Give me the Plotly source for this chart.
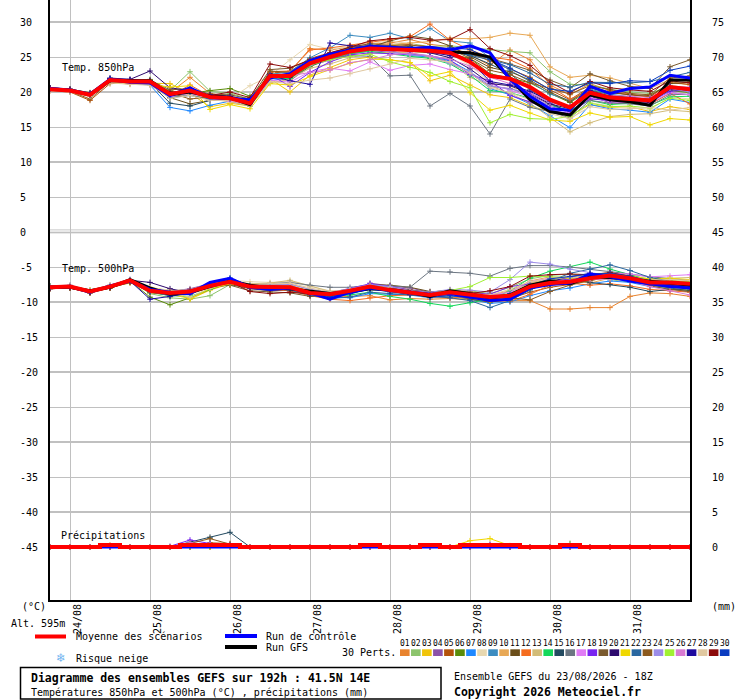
import plotly.graph_objects as go

#----------Zeitachse: Stunden ab dem Lauf 23/08 18Z (Schritt 6h, 192h)
stunden = [0, 6, 12, 18, 24, 30, 36, 42, 48, 54, 60, 66, 72, 78, 84, 90, 96,
           102, 108, 114, 120, 126, 132, 138, 144, 150, 156, 162, 168, 174, 180, 186, 192]

tage_stunden = [6, 30, 54, 78, 102, 126, 150, 174]
tage_text = ["24/08", "25/08", "26/08", "27/08", "28/08", "29/08", "30/08", "31/08"]

y_ticks_links = [30, 25, 20, 15, 10, 5, 0, -5, -10, -15, -20, -25, -30, -35, -40, -45]
y_ticks_rechts = [75, 70, 65, 60, 55, 50, 45, 40, 35, 30, 25, 20, 15, 10, 5, 0]

farben = ["#e8832e", "#8cc46c", "#f0c40a", "#8c52a8", "#b4520a", "#5a8c0a", "#1e88ff", "#e8d8b0",
          "#3c8cc0", "#e8a855", "#6b4e1a", "#f56c1e", "#d2bc78", "#14d85a", "#234a60", "#6c7682",
          "#e07cf5", "#7824f0", "#7a5a2e", "#2d0a6e", "#f0d800", "#2a68a0", "#8c5a1e", "#9c8ce8",
          "#a0f032", "#d87ad2", "#1e0a9e", "#e0c8a0", "#8c0a0a", "#0a3cc0"]

#----------Temp. 850hPa
t850_moyenne = [20.4, 20.2, 19.6, 21.7, 21.5, 21.5, 19.7, 20.2, 19.3, 19.1, 18.4,
                22.3, 22.3, 24.1, 25.0, 25.8, 26.2, 26.1, 26.0, 25.9, 25.6, 24.3,
                22.3, 21.9, 20.7, 18.9, 17.8, 19.9, 19.2, 19.0, 18.8, 20.7, 20.4]
t850_controle = [20.5, 20.3, 19.7, 21.8, 21.4, 21.3, 19.5, 20.6, 19.2, 19.0, 18.9,
                 22.0, 22.6, 24.5, 25.4, 26.0, 26.5, 26.4, 26.2, 26.4, 26.0, 26.6,
                 25.6, 21.8, 19.4, 17.6, 17.4, 20.8, 19.8, 20.5, 20.7, 22.4, 22.0]
t850_gfs = [20.4, 20.2, 19.6, 21.6, 21.6, 21.6, 19.6, 20.0, 19.4, 19.2, 18.2,
            22.4, 22.2, 24.2, 25.2, 26.0, 26.3, 26.2, 26.2, 26.0, 25.7, 25.6,
            25.0, 22.0, 18.9, 17.2, 16.7, 19.6, 18.9, 18.6, 18.1, 21.7, 21.7]

t850_p01 = [20.5, 20.3, 19.8, 21.6, 21.4, 21.3, 19.9, 22.1, 19.8, 19.3, 18.6, 22.8, 22.9, 26.2, 26.0, 26.4, 26.9, 27.0, 27.5, 26.8, 26.5, 25.3, 23.8, 26.0, 24.6, 21.0, 19.6, 21.2, 20.2, 19.7, 19.2, 21.5, 21.0]
t850_p02 = [20.6, 20.4, 19.9, 21.9, 21.6, 21.4, 20.2, 22.9, 20.1, 19.8, 19.0, 22.6, 22.5, 24.4, 25.3, 26.0, 26.3, 26.7, 26.9, 26.5, 26.6, 26.3, 26.0, 25.8, 25.6, 22.9, 21.1, 21.0, 20.4, 20.0, 19.8, 20.9, 20.6]
t850_p03 = [20.3, 20.1, 19.5, 21.5, 21.3, 21.2, 21.2, 19.8, 17.9, 18.4, 18.0, 21.9, 20.0, 22.4, 23.5, 24.6, 25.0, 24.6, 24.2, 21.6, 22.4, 21.0, 19.6, 19.2, 18.0, 17.2, 16.6, 18.2, 17.8, 17.9, 17.2, 17.9, 17.5]
t850_p04 = [20.4, 20.2, 19.6, 21.8, 21.6, 21.7, 19.4, 19.9, 19.1, 18.9, 18.3, 22.1, 21.6, 23.7, 24.6, 25.4, 25.9, 25.7, 25.5, 25.0, 24.3, 22.6, 20.8, 20.5, 19.6, 18.2, 17.2, 19.4, 18.6, 18.4, 18.2, 19.9, 19.6]
t850_p05 = [20.2, 20.0, 18.8, 21.2, 21.3, 21.6, 19.9, 20.4, 19.5, 19.4, 18.6, 22.7, 22.9, 24.8, 25.6, 26.3, 26.7, 26.6, 26.8, 26.4, 26.1, 25.6, 24.4, 23.3, 22.1, 20.3, 18.9, 20.7, 20.0, 19.6, 19.3, 21.3, 21.1]
t850_p06 = [20.5, 20.3, 19.7, 21.6, 21.5, 21.8, 20.0, 19.8, 20.2, 20.5, 19.4, 22.2, 22.0, 23.6, 24.9, 25.6, 26.0, 26.2, 25.8, 25.6, 25.4, 24.8, 22.6, 22.0, 21.3, 19.8, 18.5, 20.3, 19.6, 19.2, 19.0, 20.2, 19.9]
t850_p07 = [20.4, 20.2, 19.5, 21.4, 21.2, 21.0, 17.8, 17.3, 18.1, 18.7, 18.0, 21.6, 22.1, 24.3, 25.2, 25.7, 26.1, 25.9, 25.2, 25.0, 24.5, 22.9, 20.5, 19.6, 18.3, 16.6, 14.9, 18.2, 17.6, 17.4, 17.1, 19.0, 18.5]
t850_p08 = [20.3, 20.1, 19.6, 21.3, 21.1, 21.0, 19.3, 19.6, 18.9, 19.0, 20.9, 22.3, 24.6, 26.8, 26.1, 26.5, 27.0, 27.3, 26.9, 26.2, 25.4, 23.8, 21.4, 20.8, 19.4, 17.5, 16.0, 18.5, 18.0, 17.8, 17.5, 19.3, 19.0]
t850_p09 = [20.5, 20.3, 19.8, 21.9, 21.7, 21.6, 19.5, 20.0, 19.6, 19.2, 18.5, 22.5, 22.9, 24.9, 26.3, 28.1, 27.8, 28.4, 27.6, 29.1, 27.3, 27.0, 24.9, 23.1, 21.5, 19.7, 18.8, 20.4, 19.7, 19.3, 18.9, 20.5, 20.2]
t850_p10 = [20.4, 20.2, 19.7, 21.7, 21.4, 21.4, 19.6, 20.5, 19.1, 18.8, 18.2, 22.0, 22.4, 24.5, 25.4, 26.2, 26.6, 26.8, 27.0, 27.2, 27.7, 27.6, 27.8, 28.4, 28.1, 23.6, 22.1, 22.4, 22.0, 21.2, 20.5, 21.8, 21.5]
t850_p11 = [20.6, 20.4, 19.8, 21.4, 21.5, 21.4, 19.2, 18.3, 18.8, 18.9, 18.1, 22.4, 22.6, 23.9, 24.8, 25.8, 26.4, 27.3, 28.0, 27.6, 26.6, 25.0, 23.5, 22.9, 21.7, 20.0, 18.6, 20.6, 19.9, 19.6, 19.5, 21.2, 21.4]
t850_p12 = [20.3, 20.1, 19.6, 21.7, 21.3, 21.2, 19.4, 21.0, 19.4, 19.0, 18.3, 22.9, 23.0, 26.0, 26.3, 26.7, 27.1, 27.6, 27.9, 29.7, 27.4, 26.0, 25.0, 24.6, 23.3, 20.8, 19.0, 20.1, 18.9, 18.5, 18.3, 19.8, 18.3]
t850_p13 = [20.2, 20.0, 19.4, 21.5, 21.1, 21.2, 19.1, 19.7, 19.0, 18.6, 18.0, 21.3, 21.8, 23.4, 24.0, 24.9, 25.5, 25.7, 25.6, 25.0, 24.2, 22.1, 20.9, 19.8, 18.4, 16.4, 14.3, 15.6, 16.5, 16.8, 16.9, 17.4, 17.2]
t850_p14 = [20.5, 20.3, 19.7, 21.6, 21.6, 21.4, 19.8, 20.3, 19.2, 19.3, 18.7, 22.0, 21.9, 23.8, 24.7, 25.5, 25.8, 25.4, 25.1, 24.8, 24.0, 22.4, 20.2, 19.9, 19.1, 18.1, 17.4, 18.8, 18.2, 18.4, 18.1, 19.3, 19.4]
t850_p15 = [20.4, 20.2, 19.6, 21.5, 21.3, 21.3, 18.4, 18.0, 18.8, 19.1, 18.6, 22.3, 22.4, 24.2, 25.1, 25.9, 26.2, 26.3, 26.5, 26.0, 25.8, 25.2, 24.0, 22.6, 20.4, 18.4, 17.1, 19.4, 18.5, 18.9, 18.7, 20.3, 20.1]
t850_p16 = [20.5, 20.3, 19.7, 21.6, 21.4, 21.5, 19.6, 20.1, 19.4, 19.2, 18.5, 22.2, 22.2, 24.0, 24.8, 25.2, 25.1, 22.3, 22.4, 18.0, 19.8, 18.0, 14.0, 19.0, 17.8, 17.2, 16.3, 18.8, 18.4, 18.3, 18.0, 19.6, 19.7]
t850_p17 = [20.3, 20.1, 19.5, 21.6, 21.2, 21.1, 19.3, 19.8, 19.0, 18.7, 18.2, 21.7, 21.4, 22.9, 23.4, 23.0, 24.3, 23.1, 23.8, 24.0, 23.2, 22.6, 21.2, 20.2, 19.3, 18.0, 17.0, 19.2, 18.6, 18.5, 18.4, 19.9, 19.6]
t850_p18 = [20.4, 20.2, 19.6, 21.9, 21.7, 21.6, 19.6, 20.0, 19.3, 19.0, 18.4, 22.5, 20.8, 22.8, 24.3, 25.3, 25.6, 25.5, 25.4, 25.2, 24.6, 22.5, 21.6, 19.5, 18.6, 17.4, 16.9, 19.0, 18.8, 18.8, 18.6, 20.1, 20.3]
t850_p19 = [20.6, 20.4, 19.9, 21.8, 21.7, 21.7, 20.3, 20.5, 19.7, 19.6, 19.0, 23.2, 23.4, 24.6, 25.5, 26.4, 26.9, 26.6, 26.3, 26.1, 25.9, 25.4, 24.8, 24.0, 23.1, 21.7, 20.6, 22.6, 21.6, 20.8, 20.5, 23.6, 24.6]
t850_p20 = [20.5, 20.3, 19.7, 22.0, 21.8, 23.0, 20.6, 20.2, 19.5, 19.3, 18.7, 22.6, 22.1, 24.0, 25.1, 25.9, 26.5, 26.3, 26.1, 25.6, 24.9, 23.3, 21.2, 20.9, 19.8, 18.3, 17.6, 19.7, 19.0, 18.7, 18.5, 20.4, 20.2]
t850_p21 = [20.3, 20.1, 19.5, 21.4, 21.2, 21.1, 20.7, 20.9, 17.5, 18.2, 17.6, 21.2, 21.0, 22.2, 23.2, 24.1, 24.7, 24.6, 24.2, 22.3, 22.9, 19.9, 17.4, 18.1, 17.0, 16.0, 15.8, 17.0, 16.4, 16.5, 15.3, 16.2, 16.0]
t850_p22 = [20.4, 20.2, 19.6, 21.7, 21.5, 21.4, 19.2, 19.5, 19.0, 19.1, 18.5, 22.1, 22.4, 24.4, 25.3, 25.8, 26.0, 26.1, 25.9, 26.1, 25.9, 25.3, 24.6, 23.9, 22.7, 21.1, 20.7, 21.4, 21.4, 21.3, 21.5, 22.2, 22.8]
t850_p23 = [20.3, 20.1, 19.0, 21.5, 21.6, 21.6, 19.9, 19.0, 19.3, 19.0, 18.4, 23.0, 22.8, 24.3, 25.2, 26.2, 26.6, 26.4, 26.7, 26.5, 26.2, 24.8, 23.1, 22.5, 21.3, 20.5, 19.7, 20.9, 20.3, 19.8, 19.6, 22.0, 22.3]
t850_p24 = [20.5, 20.3, 19.7, 21.8, 21.5, 21.3, 19.9, 20.4, 19.2, 19.2, 18.6, 22.4, 22.7, 23.8, 24.9, 25.7, 26.1, 25.8, 25.3, 25.2, 24.1, 22.9, 20.9, 20.4, 19.9, 18.5, 17.9, 19.8, 19.1, 18.9, 18.7, 20.5, 20.0]
t850_p25 = [20.4, 20.2, 19.6, 21.6, 21.4, 21.4, 19.7, 20.0, 19.5, 19.1, 18.6, 22.0, 22.2, 23.9, 24.6, 25.1, 25.4, 24.3, 23.5, 22.8, 21.5, 20.6, 15.6, 16.8, 16.2, 16.1, 16.5, 18.4, 17.9, 18.0, 17.7, 19.1, 18.8]
t850_p26 = [20.3, 20.1, 19.6, 21.6, 21.3, 21.3, 19.5, 20.2, 19.3, 18.9, 18.3, 22.3, 22.3, 22.8, 23.1, 24.2, 24.6, 25.3, 25.6, 25.1, 24.7, 23.7, 22.1, 21.2, 19.8, 18.6, 18.0, 20.0, 19.5, 19.4, 19.2, 20.8, 20.7]
t850_p27 = [20.6, 20.4, 19.8, 21.9, 21.8, 21.6, 19.8, 20.1, 19.6, 19.4, 18.8, 22.4, 21.6, 21.1, 27.0, 26.6, 26.5, 26.4, 26.0, 25.7, 25.2, 24.5, 21.5, 21.0, 20.1, 18.7, 17.8, 20.2, 19.4, 19.1, 18.9, 20.8, 20.5]
t850_p28 = [20.2, 20.0, 19.4, 21.4, 21.1, 21.0, 19.1, 19.5, 18.8, 18.8, 18.1, 21.5, 21.2, 21.7, 22.0, 22.6, 23.3, 24.0, 24.8, 24.6, 24.3, 22.7, 20.6, 19.9, 18.9, 16.9, 16.2, 17.9, 17.5, 17.6, 17.8, 17.4, 17.8]
t850_p29 = [20.5, 20.3, 19.6, 21.7, 21.6, 21.5, 20.0, 20.1, 19.5, 20.0, 19.2, 24.0, 23.5, 24.6, 25.6, 26.4, 27.3, 27.6, 27.8, 27.4, 27.5, 28.9, 26.2, 25.2, 23.8, 21.4, 19.9, 21.5, 20.6, 20.3, 20.1, 21.6, 21.3]
t850_p30 = [20.4, 20.2, 19.6, 21.8, 21.6, 21.5, 19.5, 20.0, 19.2, 19.0, 18.6, 22.2, 22.3, 24.2, 25.3, 26.1, 26.7, 26.5, 26.3, 26.0, 26.3, 26.1, 24.7, 23.4, 21.9, 20.4, 20.1, 21.3, 21.2, 21.6, 21.5, 23.1, 23.7]

#----------Temp. 500hPa
t500_moyenne = [-7.9, -7.8, -8.5, -7.8, -6.9, -8.4, -8.7, -8.5, -7.7, -7.1, -7.8,
                -7.9, -7.9, -8.7, -8.9, -8.4, -7.8, -8.3, -8.7, -9.0, -8.6, -8.9,
                -9.3, -9.1, -7.8, -7.3, -7.1, -6.6, -6.2, -6.6, -7.2, -7.2, -7.4]
t500_controle = [-7.9, -7.8, -8.6, -7.7, -7.0, -8.2, -8.6, -8.8, -7.2, -6.6, -7.9,
                 -8.2, -8.0, -8.7, -9.6, -8.6, -8.0, -8.3, -8.5, -8.9, -8.8, -9.3,
                 -9.8, -9.6, -8.0, -7.5, -7.3, -6.0, -6.4, -7.0, -7.4, -7.8, -8.0]
t500_gfs = [-7.9, -7.9, -8.4, -7.9, -6.8, -8.0, -8.9, -8.6, -7.8, -7.0, -7.6,
            -8.0, -8.1, -8.5, -8.8, -8.5, -8.1, -8.2, -8.6, -9.2, -8.4, -8.8,
            -9.5, -9.0, -7.6, -7.0, -7.4, -6.4, -6.5, -6.8, -7.0, -7.3, -7.6]

t500_p01 = [-8.0, -7.9, -8.6, -7.9, -7.1, -8.6, -9.0, -8.9, -7.9, -7.4, -8.0, -8.1, -8.3, -9.0, -9.3, -9.2, -9.1, -9.7, -9.5, -9.6, -9.5, -9.7, -9.9, -9.8, -9.8, -11.0, -11.0, -10.8, -10.8, -9.2, -8.7, -8.8, -9.2]
t500_p02 = [-7.8, -7.7, -8.3, -7.7, -6.9, -8.8, -9.4, -9.6, -9.1, -7.5, -7.7, -7.8, -7.6, -8.5, -8.7, -8.2, -7.6, -8.0, -8.5, -8.7, -8.5, -8.4, -8.8, -7.9, -6.7, -6.2, -6.0, -6.3, -6.8, -7.2, -7.6, -7.9, -8.1]
t500_p03 = [-7.9, -7.8, -8.4, -7.8, -7.3, -7.9, -8.4, -9.6, -8.3, -7.4, -7.6, -7.6, -7.8, -8.4, -8.8, -8.5, -7.8, -7.9, -8.2, -8.9, -9.2, -9.6, -9.7, -8.7, -7.2, -6.8, -6.5, -6.2, -5.8, -6.2, -6.8, -6.9, -7.0]
t500_p04 = [-7.7, -7.6, -8.4, -7.6, -6.8, -8.1, -8.5, -8.1, -7.4, -7.0, -8.0, -8.2, -8.4, -8.9, -9.2, -8.7, -7.3, -7.7, -8.0, -8.6, -8.8, -9.1, -9.5, -9.0, -7.5, -6.9, -7.2, -6.7, -6.0, -6.4, -7.0, -7.3, -7.5]
t500_p05 = [-8.1, -8.0, -8.7, -8.0, -7.2, -8.3, -8.6, -8.3, -7.8, -7.3, -7.9, -7.8, -7.7, -8.6, -8.7, -8.2, -7.7, -8.3, -8.9, -9.3, -9.0, -9.2, -9.4, -9.5, -8.6, -7.9, -7.5, -7.0, -6.4, -6.7, -7.3, -7.5, -7.8]
t500_p06 = [-7.8, -7.8, -8.5, -7.7, -7.0, -9.3, -10.4, -9.4, -8.2, -7.3, -7.7, -8.0, -8.1, -8.8, -9.0, -8.6, -8.0, -8.4, -8.6, -8.8, -8.7, -8.9, -9.1, -8.8, -7.5, -7.0, -6.8, -6.5, -6.3, -6.8, -7.6, -8.0, -8.4]
t500_p07 = [-7.9, -7.8, -8.5, -7.9, -7.0, -8.6, -9.0, -8.7, -7.5, -6.8, -7.6, -7.9, -7.9, -8.6, -9.3, -9.4, -8.8, -8.9, -9.0, -9.4, -9.1, -9.6, -10.2, -10.0, -9.1, -8.4, -8.0, -7.4, -7.0, -7.2, -7.8, -8.1, -8.6]
t500_p08 = [-8.0, -7.9, -8.4, -7.8, -7.0, -8.0, -8.3, -8.6, -7.4, -6.9, -7.1, -7.2, -7.1, -7.8, -8.4, -8.3, -7.8, -8.0, -8.4, -8.8, -9.0, -8.9, -9.3, -8.6, -7.5, -6.5, -6.3, -6.0, -5.8, -6.1, -6.7, -6.8, -7.0]
t500_p09 = [-7.9, -7.9, -8.6, -7.9, -7.0, -8.4, -8.8, -8.4, -7.6, -6.7, -7.8, -7.9, -8.2, -9.1, -9.4, -8.9, -8.0, -8.6, -8.9, -9.1, -8.8, -9.0, -9.3, -8.9, -7.9, -7.5, -7.1, -6.5, -6.1, -6.5, -6.9, -7.0, -7.2]
t500_p10 = [-7.8, -7.7, -8.4, -7.8, -6.9, -8.7, -9.0, -8.8, -7.9, -7.3, -7.7, -7.6, -7.4, -8.2, -8.6, -8.4, -7.9, -8.2, -8.4, -8.6, -8.3, -8.5, -9.0, -8.4, -7.0, -6.4, -6.9, -7.3, -6.6, -6.7, -7.1, -7.1, -7.4]
t500_p11 = [-8.1, -8.0, -8.7, -7.9, -7.1, -8.5, -8.7, -8.6, -7.9, -7.5, -8.1, -8.4, -8.3, -8.9, -9.0, -8.5, -7.5, -7.6, -7.9, -8.5, -8.8, -9.6, -10.0, -9.7, -8.1, -6.9, -6.6, -6.2, -6.0, -6.5, -7.4, -7.6, -7.9]
t500_p12 = [-8.0, -7.9, -8.6, -8.0, -7.1, -8.3, -8.5, -8.4, -7.6, -7.2, -8.0, -8.2, -8.4, -9.1, -9.6, -9.8, -9.4, -9.1, -9.0, -9.2, -9.4, -9.4, -9.6, -9.9, -8.9, -7.6, -7.3, -7.6, -7.4, -7.7, -8.2, -8.4, -8.6]
t500_p13 = [-7.8, -7.7, -8.3, -7.6, -6.9, -8.2, -8.4, -8.2, -7.5, -6.9, -7.4, -7.3, -6.9, -7.7, -8.5, -8.6, -8.0, -8.1, -8.5, -8.9, -9.1, -9.0, -9.2, -8.5, -7.3, -6.8, -6.7, -6.7, -6.3, -6.5, -6.8, -6.6, -6.5]
t500_p14 = [-7.7, -7.7, -8.5, -7.8, -7.0, -8.6, -9.1, -9.2, -8.2, -7.2, -7.8, -8.0, -8.2, -8.9, -9.2, -9.0, -8.6, -9.2, -9.6, -10.2, -10.6, -10.1, -9.6, -8.4, -6.6, -5.6, -5.0, -4.3, -5.3, -6.1, -6.9, -7.3, -7.8]
t500_p15 = [-7.9, -7.8, -8.5, -7.8, -6.9, -8.4, -8.8, -8.5, -7.7, -7.0, -7.8, -7.9, -8.0, -8.7, -8.9, -8.5, -7.9, -8.3, -8.7, -9.0, -8.7, -9.0, -9.4, -9.2, -8.0, -7.5, -6.8, -7.2, -7.5, -7.9, -8.5, -8.2, -8.3]
t500_p16 = [-7.9, -7.8, -8.5, -7.9, -7.0, -8.5, -8.6, -8.3, -7.7, -7.2, -7.6, -7.4, -7.2, -7.6, -7.9, -7.9, -7.6, -7.7, -7.9, -5.6, -5.7, -5.9, -6.3, -5.2, -4.8, -4.8, -5.0, -5.3, -5.6, -6.0, -6.4, -6.7, -6.9]
t500_p17 = [-7.8, -7.8, -8.4, -7.7, -6.9, -8.5, -8.6, -8.4, -7.6, -7.1, -7.8, -7.8, -7.9, -8.5, -8.8, -8.3, -7.7, -8.1, -8.8, -9.1, -8.8, -8.7, -9.0, -8.6, -7.1, -6.6, -6.4, -6.3, -5.9, -6.0, -6.4, -6.3, -6.1]
t500_p18 = [-8.0, -7.9, -8.5, -7.7, -6.8, -8.4, -8.7, -8.6, -7.8, -7.1, -7.9, -7.7, -7.8, -8.5, -8.7, -8.1, -7.4, -7.8, -8.3, -8.7, -8.4, -8.6, -8.9, -7.8, -7.4, -7.1, -6.7, -6.6, -6.5, -6.9, -7.5, -7.5, -7.7]
t500_p19 = [-8.1, -8.0, -8.6, -8.0, -7.2, -8.6, -9.0, -8.8, -7.9, -7.6, -8.4, -8.6, -8.7, -9.2, -9.1, -8.5, -7.7, -8.0, -8.3, -8.6, -8.5, -8.7, -9.2, -9.6, -8.2, -7.3, -6.9, -6.4, -6.2, -6.6, -7.5, -7.9, -8.0]
t500_p20 = [-7.9, -7.8, -8.5, -7.8, -6.9, -7.2, -8.1, -8.7, -7.8, -7.0, -7.7, -7.9, -7.8, -8.6, -8.9, -8.4, -7.8, -8.2, -8.7, -9.0, -8.6, -9.0, -9.4, -9.3, -7.8, -7.4, -7.2, -6.6, -6.1, -6.5, -7.2, -7.3, -7.4]
t500_p21 = [-7.8, -7.7, -8.3, -7.7, -6.9, -8.3, -8.9, -9.5, -8.1, -7.4, -7.7, -7.8, -7.7, -8.4, -8.6, -8.2, -7.7, -8.2, -8.5, -8.8, -8.4, -8.7, -9.8, -8.9, -7.5, -6.8, -6.6, -6.4, -6.2, -6.3, -6.7, -6.6, -6.8]
t500_p22 = [-8.0, -7.9, -8.6, -7.9, -7.0, -8.5, -9.1, -8.9, -7.7, -6.6, -7.7, -8.1, -8.3, -9.0, -9.5, -9.3, -8.6, -8.8, -9.0, -9.2, -9.4, -9.8, -10.8, -9.8, -8.3, -7.0, -5.9, -5.3, -4.7, -5.5, -6.5, -7.0, -7.5]
t500_p23 = [-8.0, -8.0, -8.7, -8.0, -7.1, -8.3, -8.5, -8.4, -7.7, -7.2, -8.0, -8.0, -8.2, -8.9, -9.1, -8.7, -8.1, -8.4, -8.5, -8.6, -8.3, -8.6, -9.1, -9.4, -9.7, -8.5, -7.6, -6.9, -6.5, -6.9, -7.7, -8.2, -8.5]
t500_p24 = [-7.8, -7.7, -8.4, -7.7, -6.9, -8.3, -8.5, -8.2, -7.5, -7.0, -7.7, -7.6, -7.5, -8.2, -8.6, -8.1, -7.5, -7.8, -8.4, -8.6, -8.2, -8.3, -8.6, -6.8, -4.3, -4.6, -5.3, -5.8, -6.2, -6.7, -7.1, -7.2, -7.2]
t500_p25 = [-7.9, -7.8, -8.4, -7.8, -6.9, -8.4, -8.6, -8.5, -7.7, -7.1, -7.8, -7.9, -7.9, -8.6, -8.9, -8.4, -7.9, -8.3, -8.7, -8.9, -8.4, -7.8, -6.5, -6.5, -6.3, -6.4, -6.5, -6.4, -6.6, -6.7, -7.1, -7.0, -7.1]
t500_p26 = [-7.9, -7.8, -8.5, -7.8, -7.0, -8.3, -8.6, -8.5, -7.6, -7.0, -7.8, -7.9, -7.9, -8.7, -8.9, -8.6, -8.0, -8.3, -8.8, -9.1, -8.7, -9.2, -9.5, -9.1, -7.7, -7.0, -6.9, -6.8, -6.7, -7.0, -7.8, -8.4, -9.0]
t500_p27 = [-8.0, -7.9, -8.6, -7.9, -7.0, -9.6, -9.2, -8.7, -7.8, -7.2, -8.0, -8.1, -8.0, -8.8, -9.0, -8.6, -8.0, -8.5, -8.9, -9.2, -8.9, -9.1, -9.5, -9.3, -7.9, -7.1, -6.4, -5.9, -6.3, -6.8, -7.3, -7.4, -7.6]
t500_p28 = [-7.8, -7.7, -8.3, -7.6, -6.9, -8.1, -8.7, -9.3, -8.0, -7.2, -7.5, -7.4, -7.3, -8.0, -8.5, -8.3, -7.8, -8.0, -8.6, -8.9, -8.7, -8.8, -9.0, -8.2, -7.1, -6.7, -6.5, -6.6, -6.4, -6.6, -6.9, -6.8, -6.9]
t500_p29 = [-8.0, -7.9, -8.6, -7.9, -7.0, -8.4, -8.6, -8.3, -7.5, -7.1, -8.5, -8.8, -8.6, -8.9, -9.1, -8.6, -8.0, -8.3, -8.7, -8.9, -8.6, -8.8, -8.4, -7.8, -6.3, -6.1, -6.0, -6.1, -5.8, -6.3, -7.1, -7.6, -8.0]
t500_p30 = [-7.9, -7.8, -8.5, -7.8, -6.9, -8.5, -8.8, -8.5, -7.4, -6.6, -7.7, -7.9, -8.0, -8.8, -9.2, -8.8, -8.2, -8.5, -8.8, -9.3, -9.1, -9.4, -9.6, -8.8, -7.6, -6.7, -6.4, -6.0, -5.9, -6.3, -7.0, -7.4, -7.7]

#----------Précipitations (mm), nur Mitglieder mit Regen
pluie_moyenne = [0, 0, 0, 0.3, 0, 0, 0, 0.3, 0.3, 0.3, 0,
                 0, 0, 0, 0, 0, 0.3, 0, 0, 0.3, 0, 0.3,
                 0.3, 0.3, 0, 0, 0.3, 0, 0, 0, 0, 0, 0]
pluie_controle = [0, 0, 0, 0, 0, 0, 0, 0, 0, 0, 0,
                  0, 0, 0, 0, 0, 0, 0, 0, 0, 0, 0,
                  0, 0, 0, 0, 0, 0, 0, 0, 0, 0, 0]
pluie_p01 = [0, 0, 0, 0.3, 0, 0, 0, 0, 0, 0, 0, 0, 0, 0, 0, 0, 0, 0, 0, 0, 0, 0, 0.3, 0, 0, 0, 0, 0, 0, 0, 0, 0, 0]
pluie_p05 = [0, 0, 0, 0, 0, 0, 0, 0, 0.6, 0.5, 0, 0, 0, 0, 0, 0, 0, 0, 0, 0, 0, 0, 0, 0, 0, 0, 0, 0, 0, 0, 0, 0, 0]
pluie_p06 = [0, 0, 0, 0, 0, 0, 0, 0, 0, 0, 0, 0, 0, 0, 0, 0, 0, 0, 0, 0, 0, 0, 0, 0, 0, 0, 0.5, 0, 0, 0, 0, 0, 0]
pluie_p07 = [0, 0, 0, 0, 0, 0, 0, 0, 0.4, 0.3, 0, 0, 0, 0, 0, 0, 0, 0, 0, 0, 0, 0, 0, 0, 0, 0, 0, 0, 0, 0, 0, 0, 0]
pluie_p15 = [0, 0, 0, 0, 0, 0, 0, 0.7, 1.4, 2.1, 0, 0, 0, 0, 0, 0, 0, 0, 0, 0, 0, 0, 0, 0, 0, 0, 0, 0, 0, 0, 0, 0, 0]
pluie_p18 = [0, 0, 0, 0, 0, 0, 0.1, 1.0, 0.5, 0.3, 0, 0, 0, 0, 0, 0, 0, 0, 0, 0, 0, 0, 0.4, 0, 0, 0, 0, 0, 0, 0, 0, 0, 0]
pluie_p21 = [0, 0, 0, 0, 0, 0, 0, 0, 0, 0, 0, 0, 0, 0, 0, 0, 0, 0, 0, 0, 0, 0.9, 1.2, 0.2, 0, 0, 0, 0, 0, 0, 0, 0, 0]
pluie_p23 = [0, 0, 0, 0, 0, 0, 0, 0.5, 1.2, 0.4, 0, 0, 0, 0, 0, 0, 0, 0, 0, 0, 0, 0, 0, 0, 0, 0, 0, 0, 0, 0, 0, 0, 0]
pluie_p26 = [0, 0, 0, 0, 0, 0, 0, 0.6, 0.3, 0, 0, 0, 0, 0, 0, 0, 0, 0, 0, 0, 0, 0, 0, 0, 0, 0, 0, 0, 0, 0, 0, 0, 0]

t850_perts = [t850_p01, t850_p02, t850_p03, t850_p04, t850_p05, t850_p06, t850_p07, t850_p08, t850_p09, t850_p10,
              t850_p11, t850_p12, t850_p13, t850_p14, t850_p15, t850_p16, t850_p17, t850_p18, t850_p19, t850_p20,
              t850_p21, t850_p22, t850_p23, t850_p24, t850_p25, t850_p26, t850_p27, t850_p28, t850_p29, t850_p30]
t500_perts = [t500_p01, t500_p02, t500_p03, t500_p04, t500_p05, t500_p06, t500_p07, t500_p08, t500_p09, t500_p10,
              t500_p11, t500_p12, t500_p13, t500_p14, t500_p15, t500_p16, t500_p17, t500_p18, t500_p19, t500_p20,
              t500_p21, t500_p22, t500_p23, t500_p24, t500_p25, t500_p26, t500_p27, t500_p28, t500_p29, t500_p30]
pluie_perts = [(1, pluie_p01), (5, pluie_p05), (6, pluie_p06), (7, pluie_p07), (15, pluie_p15),
               (18, pluie_p18), (21, pluie_p21), (23, pluie_p23), (26, pluie_p26)]

schrift = "DejaVu Sans Mono"

# Pixel im 740x700 Bild -> paper Koordinaten (Plotfläche x 50..690, y 0..600)
def px(x):
    return (x - 50) / 640

def py(y):
    return (600 - y) / 600


fig = go.Figure()

#----------Perturbationen
for k in range(30):
    for werte in (t850_perts[k], t500_perts[k]):
        fig.add_trace(go.Scatter(x=stunden, y=werte, mode="lines+markers",
                                 line=dict(color=farben[k], width=1),
                                 marker=dict(symbol="cross-thin", size=4, line=dict(width=1, color=farben[k])),
                                 hoverinfo="skip", showlegend=False))

for nummer, werte in pluie_perts:
    fig.add_trace(go.Scatter(x=stunden, y=werte, yaxis="y2", mode="lines+markers",
                             line=dict(color=farben[nummer - 1], width=1),
                             marker=dict(symbol="cross-thin", size=4, line=dict(width=1, color=farben[nummer - 1])),
                             hoverinfo="skip", showlegend=False))

#----------Run GFS, Contrôle, Moyenne (in dieser Reihenfolge übereinander)
for werte in (t850_gfs, t500_gfs):
    fig.add_trace(go.Scatter(x=stunden, y=werte, mode="lines", line=dict(color="#000000", width=3),
                             hoverinfo="skip", showlegend=False))
for werte in (t850_controle, t500_controle):
    fig.add_trace(go.Scatter(x=stunden, y=werte, mode="lines", line=dict(color="#0000ff", width=3),
                             hoverinfo="skip", showlegend=False))
fig.add_trace(go.Scatter(x=stunden, y=pluie_controle, yaxis="y2", mode="lines",
                         line=dict(color="#0000ff", width=3), hoverinfo="skip", showlegend=False))
for werte in (t850_moyenne, t500_moyenne):
    fig.add_trace(go.Scatter(x=stunden, y=werte, mode="lines", line=dict(color="#ff0000", width=4),
                             hoverinfo="skip", showlegend=False))
fig.add_trace(go.Scatter(x=stunden, y=pluie_moyenne, yaxis="y2", mode="lines", line_shape="hvh",
                         line=dict(color="#ff0000", width=4), hoverinfo="skip", showlegend=False))

#----------Gitterlinien (dicker bei 10er Werten) und Doppellinie bei 0
formen = []
for wert in y_ticks_links:
    if wert % 10 == 0 and wert != 0:
        formen.append(dict(type="line", xref="paper", yref="y", x0=0, x1=1, y0=wert, y1=wert,
                           line=dict(color="#c0c0c0", width=2), layer="below"))
formen.append(dict(type="line", xref="paper", yref="y", x0=0, x1=1, y0=0.3, y1=0.3,
                   line=dict(color="#c8c8c8", width=1), layer="below"))
formen.append(dict(type="line", xref="paper", yref="y", x0=0, x1=1, y0=-0.07, y1=-0.07,
                   line=dict(color="#a8a8a8", width=1.5), layer="below"))

#----------Legende unten
formen.append(dict(type="line", xref="paper", yref="paper", x0=px(35), x1=px(66), y0=py(636.5), y1=py(636.5),
                   line=dict(color="#ff0000", width=4)))
formen.append(dict(type="line", xref="paper", yref="paper", x0=px(225), x1=px(257), y0=py(636), y1=py(636),
                   line=dict(color="#0000ff", width=4)))
formen.append(dict(type="line", xref="paper", yref="paper", x0=px(225), x1=px(257), y0=py(647), y1=py(647),
                   line=dict(color="#000000", width=4)))
formen.append(dict(type="rect", xref="paper", yref="paper", x0=px(20.5), x1=px(441), y0=py(667.5), y1=py(699),
                   line=dict(color="#000000", width=1.5)))

texte = []
for k in range(30):
    links = 400 + 11.03 * k
    formen.append(dict(type="rect", xref="paper", yref="paper", x0=px(links), x1=px(links + 9.6),
                       y0=py(656), y1=py(649.3), line=dict(width=0), fillcolor=farben[k]))
    texte.append(dict(x=px(links + 4.8), y=py(643), xref="paper", yref="paper", text="%02d" % (k + 1),
                      showarrow=False, xanchor="center", yanchor="middle",
                      font=dict(family=schrift, size=8, color="black")))

for stunde, tag in zip(tage_stunden, tage_text):
    texte.append(dict(x=stunde, y=0, xref="x", yref="paper", text=tag, textangle=-90, showarrow=False,
                      xanchor="center", yanchor="top", xshift=7, yshift=-2,
                      font=dict(family=schrift, size=10, color="black")))

def text_links(x, y, t, groesse=10, farbe="black"):
    texte.append(dict(x=px(x), y=py(y), xref="paper", yref="paper", text=t, showarrow=False,
                      xanchor="left", yanchor="middle", font=dict(family=schrift, size=groesse, color=farbe)))

text_links(60, 68, "Temp. 850hPa")
text_links(60, 268, "Temp. 500hPa")
text_links(59, 535, "Précipitations")
text_links(20, 606, "(°C)")
text_links(710, 606, "(mm)")
text_links(9, 623, "Alt. 595m")
text_links(74, 636, "Moyenne des scénarios")
text_links(264, 636, "Run de contrôle")
text_links(264, 647, "Run GFS")
text_links(340, 652, "30 Perts.")
text_links(74, 658, "Risque neige")
text_links(54, 657, "❄", 13, "#70b4f0")
text_links(29, 677.5, "<b>Diagramme des ensembles GEFS sur 192h : 41.5N 14E</b>", 11.5)
text_links(29, 692, "Températures 850hPa et 500hPa (°C) , précipitations (mm)")
text_links(452, 676, "Ensemble GEFS du 23/08/2026 - 18Z")
text_links(452, 692, "<b>Copyright 2026 Meteociel.fr</b>", 11.5)

# linksbündige Beschriftung wie im Original (auf 3 Zeichen auffüllen)
ticktext_links = [str(v) + "\u00a0" * (3 - len(str(v))) for v in y_ticks_links]

fig.update_layout(
    width=740, height=700, autosize=False,
    margin=dict(l=50, r=50, t=0, b=100, pad=0),
    plot_bgcolor="white", paper_bgcolor="white",
    font=dict(family=schrift, size=10, color="black"),
    showlegend=False,
    xaxis=dict(range=[0, 192], tickvals=tage_stunden, showticklabels=False, ticks="",
               showgrid=True, gridcolor="#c0c0c0", gridwidth=1, zeroline=False,
               showline=True, linecolor="black", linewidth=2),
    yaxis=dict(range=[-52.571, 33.143], tickvals=y_ticks_links, ticktext=ticktext_links, ticks="",
               ticklabelstandoff=8, tickfont=dict(family=schrift, size=10, color="black"),
               showgrid=True, gridcolor="#c0c0c0", gridwidth=1, zeroline=False,
               showline=True, linecolor="black", linewidth=2),
    yaxis2=dict(range=[-7.571, 78.143], overlaying="y", side="right", tickvals=y_ticks_rechts, ticks="",
                ticklabelstandoff=18, tickfont=dict(family=schrift, size=10, color="black"),
                showgrid=False, zeroline=False, showline=True, linecolor="black", linewidth=2),
    shapes=formen,
    annotations=texte,
)

# Seitenrand des Browsers entfernen, damit die 740x700 Grafik genau ins Fenster passt
fig.write_html("out.html", config={"displayModeBar": False},
               post_script="document.body.style.margin='0';document.body.style.overflow='hidden';")
